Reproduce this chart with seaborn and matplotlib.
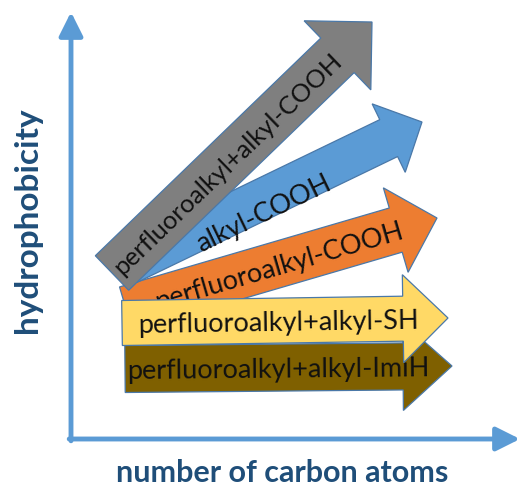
"""Hydrophobicity vs chain length: block-arrow concept diagram."""

import numpy as np
import matplotlib
matplotlib.use("Agg")
import matplotlib.pyplot as plt
from matplotlib.patches import FancyArrow
import seaborn as sns

# arrow tails / tips in diagram units (origin at the axis corner)
labels = [
    "perfluoroalkyl+alkyl-ImiH",
    "perfluoroalkyl-COOH",
    "alkyl-COOH",
    "perfluoroalkyl+alkyl-COOH",
    "perfluoroalkyl+alkyl-SH",
]
tail_x = [54, 55, 57, 41, 51]
tail_y = [70, 130, 175, 166, 116]
tip_x = [381, 366, 351, 301, 377]
tip_y = [73, 221, 317, 417, 121]
colors = ["#7f6000", "#ed7d31", "#5b9bd5", "#7f7f7f", "#ffd966"]

x_label = "number of carbon atoms"
y_label = "hydrophobicity"

# shape of each block arrow (drawing order = list order)
body_w = [47, 46, 41, 48, 45]
head_w = [88, 88, 76, 96, 88]
head_len = [49, 43, 37, 48, 45]
text_at = [0.47, 0.49, 0.44, 0.44, 0.48]   # fraction along the arrow
text_shift = [0, 0, -11, 0, 0]              # offset across the arrow
text_size = [19.5, 19.5, 19.5, 18.3, 19.5]

AXIS_BLUE = "#5b9bd5"
LABEL_BLUE = "#1f4e79"


def draw_diagram(save_path="out.png"):
    sns.set_theme(style="white")
    plt.rcParams["font.family"] = ["Lato", "DejaVu Sans"]

    fig = plt.figure(figsize=(5.22, 4.87), dpi=100)
    ax = fig.add_axes([0, 0, 1, 1])
    ax.set_xlim(-71, 451)
    ax.set_ylim(-48, 439)
    ax.axis("off")

    # axes drawn as arrows
    arrow_kw = dict(arrowstyle="-|>,head_length=0.8,head_width=0.4",
                    color=AXIS_BLUE, lw=3.5, mutation_scale=18,
                    shrinkA=0, shrinkB=0)
    ax.annotate("", xy=(0, 427), xytext=(0, -1.8), arrowprops=arrow_kw)
    ax.annotate("", xy=(449, 0), xytext=(-1.8, 0), arrowprops=arrow_kw)

    ax.text(211, -34, x_label, ha="center", va="center", fontsize=22,
            fontweight="bold", color=LABEL_BLUE)
    ax.text(-43, 219, y_label, ha="center", va="center", fontsize=24,
            fontweight="bold", color=LABEL_BLUE, rotation=90)

    for i, lab in enumerate(labels):
        x0, y0 = tail_x[i], tail_y[i]
        dx, dy = tip_x[i] - x0, tip_y[i] - y0
        length = np.hypot(dx, dy)
        ux, uy = dx / length, dy / length
        arrow = FancyArrow(x0, y0, dx, dy, width=body_w[i],
                           head_width=head_w[i], head_length=head_len[i],
                           length_includes_head=True, facecolor=colors[i],
                           edgecolor="#4a78a8", lw=0.9, zorder=2 + i)
        ax.add_patch(arrow)

        s = text_at[i] * length
        tx = x0 + s * ux - text_shift[i] * uy
        ty = y0 + s * uy + text_shift[i] * ux
        angle = np.degrees(np.arctan2(dy, dx))
        ax.text(tx, ty, lab, ha="center", va="center_baseline",
                rotation=angle, rotation_mode="anchor", fontsize=text_size[i],
                color="#111111", zorder=2 + i)

    fig.savefig(save_path, dpi=100)
    plt.close(fig)


if __name__ == "__main__":
    draw_diagram()
